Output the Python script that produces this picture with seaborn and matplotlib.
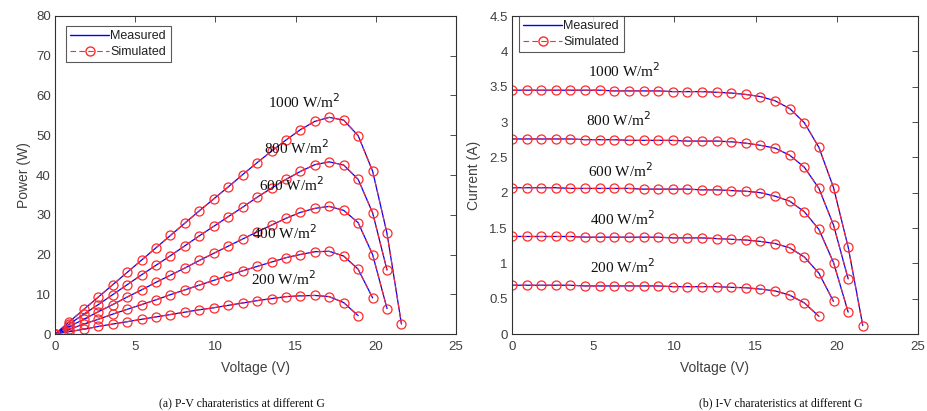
import numpy as np
import pandas as pd
import seaborn as sns
import matplotlib
matplotlib.use("Agg")
import matplotlib.pyplot as plt
from matplotlib.lines import Line2D

# ---------------- data ----------------
voltage = [0, 0.9, 1.8, 2.7, 3.6, 4.5, 5.4, 6.3, 7.2, 8.1, 9.0, 9.9, 10.8,
           11.7, 12.6, 13.5, 14.4, 15.3, 16.2, 17.1, 18.0, 18.9, 19.8, 20.7, 21.6]

irradiance_labels = ["1000 W/m$^2$", "800 W/m$^2$", "600 W/m$^2$", "400 W/m$^2$", "200 W/m$^2$"]

current_1000 = [3.45, 3.45, 3.45, 3.45, 3.45, 3.45, 3.45, 3.44, 3.44, 3.44, 3.44, 3.43, 3.43,
                3.43, 3.42, 3.41, 3.39, 3.36, 3.30, 3.19, 2.99, 2.64, 2.07, 1.23, 0.12]
current_800 = [2.76, 2.76, 2.76, 2.76, 2.76, 2.75, 2.75, 2.75, 2.74, 2.74, 2.74, 2.74, 2.73,
               2.73, 2.73, 2.72, 2.70, 2.67, 2.63, 2.53, 2.36, 2.06, 1.54, 0.78]
current_600 = [2.07, 2.07, 2.07, 2.07, 2.06, 2.06, 2.06, 2.06, 2.06, 2.05, 2.05, 2.05, 2.05,
               2.04, 2.04, 2.03, 2.02, 2.00, 1.95, 1.88, 1.73, 1.48, 1.01, 0.31]
current_400 = [1.38, 1.38, 1.38, 1.38, 1.38, 1.37, 1.37, 1.37, 1.37, 1.37, 1.37, 1.36, 1.36,
               1.36, 1.35, 1.34, 1.33, 1.31, 1.28, 1.22, 1.09, 0.86, 0.46]
current_200 = [0.69, 0.69, 0.69, 0.69, 0.69, 0.68, 0.68, 0.68, 0.68, 0.68, 0.68, 0.67, 0.67,
               0.67, 0.67, 0.66, 0.655, 0.635, 0.61, 0.55, 0.44, 0.25]

power_1000 = [0, 3.1, 6.2, 9.3, 12.4, 15.5, 18.6, 21.7, 24.8, 27.9, 31.0, 34.0, 37.0,
              40.1, 43.1, 46.0, 48.8, 51.4, 53.5, 54.5, 53.8, 49.9, 41.0, 25.3, 2.5]
power_800 = [0, 2.5, 5.0, 7.4, 9.9, 12.4, 14.9, 17.3, 19.7, 22.2, 24.7, 27.1, 29.5,
             31.9, 34.4, 36.7, 38.9, 40.9, 42.6, 43.3, 42.5, 38.9, 30.5, 16.1]
power_600 = [0, 1.9, 3.7, 5.6, 7.4, 9.3, 11.1, 13.0, 14.8, 16.6, 18.5, 20.3, 22.1,
             23.9, 25.7, 27.4, 29.1, 30.6, 31.6, 32.1, 31.1, 28.0, 20.0, 6.4]
power_400 = [0, 1.2, 2.5, 3.7, 5.0, 6.2, 7.4, 8.6, 9.9, 11.1, 12.3, 13.5, 14.7,
             15.9, 17.0, 18.1, 19.2, 20.0, 20.7, 20.8, 19.6, 16.3, 9.1]
power_200 = [0, 0.6, 1.2, 1.9, 2.5, 3.1, 3.7, 4.3, 4.9, 5.5, 6.1, 6.6, 7.2,
             7.8, 8.4, 8.9, 9.4, 9.6, 9.7, 9.4, 7.9, 4.6]

currents = [current_1000, current_800, current_600, current_400, current_200]
powers = [power_1000, power_800, power_600, power_400, power_200]

# label positions (data coords)
pv_label_xy = [(13.3, 58.5), (13.0, 46.8), (12.7, 37.6), (12.3, 25.4), (12.2, 14.0)]
iv_label_xy = [(4.7, 3.73), (4.55, 3.04), (4.7, 2.31), (4.8, 1.63), (4.8, 0.95)]

pv_yticks = [0, 10, 20, 30, 40, 50, 60, 70, 80]
iv_yticks = [0, 0.5, 1, 1.5, 2, 2.5, 3, 3.5, 4, 4.5]
x_ticks = [0, 5, 10, 15, 20, 25]

# ---------------- plotting ----------------
sns.set_style("white")
plt.rcParams["font.family"] = ["Liberation Sans", "DejaVu Sans"]

fig = plt.figure(figsize=(9.27, 4.11), dpi=100)
ax1 = fig.add_axes([55 / 927, 1 - 334 / 411, (456 - 55) / 927, (334 - 16) / 411])
ax2 = fig.add_axes([512 / 927, 1 - 334 / 411, (918 - 512) / 927, (334 - 16) / 411])

gray = "#404040"
red = "#ff2a2a"


def draw(ax, ys_list):
    for ys in ys_list:
        xs = voltage[:len(ys)]
        df = pd.DataFrame({"V": xs, "Y": ys})
        sns.lineplot(data=df, x="V", y="Y", ax=ax, color="blue", lw=0.9,
                     sort=False, estimator=None)
        sns.lineplot(data=df, x="V", y="Y", ax=ax, color=red, lw=0.8,
                     linestyle=(0, (5, 3)), marker="o", markersize=6.5,
                     markerfacecolor="none", markeredgecolor=red,
                     markeredgewidth=0.9, sort=False, estimator=None)


draw(ax1, powers)
draw(ax2, currents)

legend_anchor = {ax1: (11 / 401, 1 - 10 / 318), ax2: (7 / 406, 1.0)}

for ax, yticks, ylim, ylabel, labels_xy, lblx in [
    (ax1, pv_yticks, (0, 80), "Power (W)", pv_label_xy, -0.06),
    (ax2, iv_yticks, (0, 4.5), "Current (A)", iv_label_xy, -0.077),
]:
    ax.set_xlim(0, 25)
    ax.set_ylim(*ylim)
    ax.set_xticks(x_ticks)
    ax.set_yticks(yticks)
    ax.set_yticklabels([("%g" % t) for t in yticks])
    ax.tick_params(direction="in", top=True, right=True, length=4, width=0.6,
                   labelsize=9.5, labelcolor=gray, color="#303030")
    ax.tick_params(axis="x", pad=5)
    ax.tick_params(axis="y", pad=3)
    for s in ax.spines.values():
        s.set_visible(True)
        s.set_color("#303030")
        s.set_linewidth(0.8)
    ax.set_xlabel("Voltage (V)", fontsize=10, color=gray, labelpad=6)
    ax.set_ylabel(ylabel, fontsize=10, color=gray)
    ax.yaxis.set_label_coords(lblx, 0.5)
    for txt, (lx, ly) in zip(irradiance_labels, labels_xy):
        ax.text(lx, ly, txt, fontsize=11, family=["Liberation Serif", "DejaVu Serif"],
                va="center", ha="left", color="#111111")
    handles = [
        Line2D([], [], color="blue", lw=1.0),
        Line2D([], [], color=red, lw=0.8, linestyle=(0, (5, 3)), marker="o",
               markersize=6.5, markerfacecolor="none", markeredgecolor=red),
    ]
    leg = ax.legend(handles, ["Measured", "Simulated"], loc="upper left",
                    bbox_to_anchor=legend_anchor[ax],
                    fontsize=9, frameon=True, fancybox=False, handlelength=3.1,
                    borderpad=0.35, labelspacing=0.3, handletextpad=0.1,
                    borderaxespad=0.0)
    leg.get_frame().set_edgecolor("#303030")
    leg.get_frame().set_linewidth(0.8)
    for t in leg.get_texts():
        t.set_color("#202020")

fig.text(242 / 927, 1 - 403 / 411, "(a) P-V charateristics at different G",
         ha="center", va="center", fontsize=8.5,
         family=["Liberation Serif", "DejaVu Serif"], color="#111111")
fig.text(781 / 927, 1 - 403 / 411, "(b) I-V charateristics at different G",
         ha="center", va="center", fontsize=8.5,
         family=["Liberation Serif", "DejaVu Serif"], color="#111111")

fig.savefig("out.png", dpi=100, facecolor="white")
